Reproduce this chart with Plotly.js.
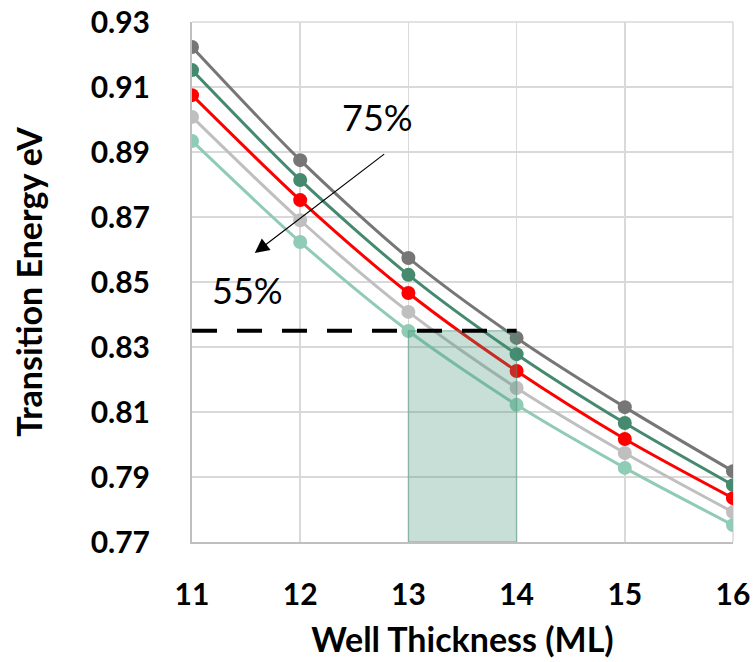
<!DOCTYPE html>
<html>
<head>
<meta charset="utf-8">
<script src="https://cdn.plot.ly/plotly-3.0.1.min.js"></script>
<style>html,body{margin:0;padding:0;background:#fff;}#chart{width:756px;height:662px;}</style>
</head>
<body>
<div id="chart"></div>
<script>
// Data
const wellThickness = [11, 12, 13, 14, 15, 16];
const seriesNames = ['75%', '70%', '65%', '60%', '55%'];
const e75 = [0.9223, 0.8875, 0.8574, 0.8328, 0.8115, 0.7918];
const e70 = [0.9152, 0.8814, 0.8522, 0.8278, 0.8066, 0.7875];
const e65 = [0.9075, 0.8752, 0.8466, 0.8226, 0.8017, 0.7835];
const e60 = [0.9008, 0.8690, 0.8408, 0.8174, 0.7974, 0.7792];
const e55 = [0.8934, 0.8623, 0.8349, 0.8122, 0.7928, 0.7752];
const seriesColors = ['#767676', '#45896f', '#ff0000', '#bfbfbf', '#8fcbb5'];
const yTicks = [0.77, 0.79, 0.81, 0.83, 0.85, 0.87, 0.89, 0.91, 0.93];
const targetEnergy = 0.835;
const bandStart = 13, bandEnd = 14;

const allSeries = [e75, e70, e65, e60, e55];
const traces = allSeries.map((ys, i) => ({
  x: wellThickness, y: ys, name: seriesNames[i], type: 'scatter', mode: 'lines+markers',
  line: {color: seriesColors[i], width: 3, shape: 'spline', smoothing: 0.8},
  marker: {color: seriesColors[i], size: 14},
  hoverinfo: 'x+y+name'
})).reverse();

const FONT = 'Lato, "Open Sans", sans-serif';
const tickFont = {family: FONT, size: 30, color: '#000', weight: 'bold'};
const layout = {
  width: 756, height: 662,
  margin: {l: 192, r: 23, t: 22, b: 120},
  paper_bgcolor: '#fff', plot_bgcolor: '#fff',
  showlegend: false,
  xaxis: {
    range: [11, 16], tickvals: wellThickness, ticktext: wellThickness.map(String),
    showgrid: true, gridcolor: '#d9d9d9', gridwidth: 1.5,
    showline: true, linecolor: '#bfbfbf', linewidth: 2,
    ticks: 'outside', ticklen: 25, tickcolor: 'rgba(0,0,0,0)',
    tickfont: tickFont, zeroline: false,
    title: {text: 'Well Thickness (ML)', font: {family: FONT, size: 34, color: '#000', weight: 'bold'}, standoff: 18}
  },
  yaxis: {
    range: [0.77, 0.93], tickvals: yTicks, ticktext: yTicks.map(v => v.toFixed(2)),
    showgrid: true, gridcolor: '#d9d9d9', gridwidth: 1.5,
    showline: true, linecolor: '#bfbfbf', linewidth: 2,
    ticks: 'outside', ticklen: 34, tickcolor: 'rgba(0,0,0,0)',
    tickfont: tickFont, zeroline: false,
    title: {text: 'Transition Energy eV', font: {family: FONT, size: 34, color: '#000', weight: 'bold'}, standoff: 38}
  },
  shapes: [
    {type: 'rect', xref: 'x', yref: 'y', x0: bandStart, x1: bandEnd, y0: 0.77, y1: targetEnergy,
     fillcolor: 'rgba(69,150,120,0.3)', line: {color: 'rgba(69,150,120,0.45)', width: 1.5}, layer: 'above'},
    {type: 'line', xref: 'x', yref: 'y', x0: 11, x1: bandEnd, y0: targetEnergy, y1: targetEnergy,
     line: {color: '#000', width: 4, dash: '25px,20px'}, layer: 'above'},
    {type: 'line', xref: 'paper', yref: 'paper', x0: 0, x1: 1, y0: 1, y1: 1, line: {color: '#d9d9d9', width: 1.5}, layer: 'below'},
    {type: 'line', xref: 'paper', yref: 'paper', x0: 1, x1: 1, y0: 0, y1: 1, line: {color: '#d9d9d9', width: 1.5}, layer: 'below'}
  ],
  annotations: [
    {x: 11.58, y: 0.8589, ax: 12.79, ay: 0.8897, axref: 'x', ayref: 'y', xref: 'x', yref: 'y',
     showarrow: true, arrowhead: 2, arrowsize: 2.4, arrowwidth: 1.2, arrowcolor: '#000', text: ''},
    {x: 12.71, y: 0.9008, xref: 'x', yref: 'y', text: '75%', showarrow: false,
     font: {family: FONT, size: 36, color: '#000'}},
    {x: 11.51, y: 0.8475, xref: 'x', yref: 'y', text: '55%', showarrow: false,
     font: {family: FONT, size: 36, color: '#000'}}
  ]
};

Plotly.newPlot('chart', traces, layout, {displayModeBar: false, staticPlot: true});
</script>
</body>
</html>
